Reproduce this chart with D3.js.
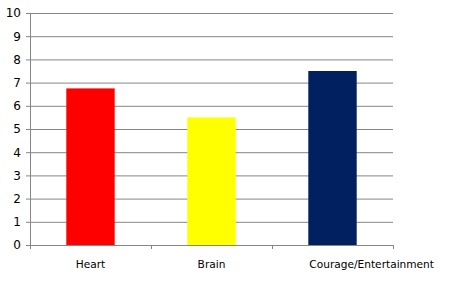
<!DOCTYPE html>
<html>
<head>
<meta charset="utf-8">
<script src="https://cdn.jsdelivr.net/npm/d3@7"></script>
<style>
  body { margin: 0; background: #fff; }
  svg text { font-family: "DejaVu Sans", Verdana, sans-serif; fill: #000; }
</style>
</head>
<body>
<div id="chart"></div>
<script>
(function () {
  "use strict";

  /***** Données *****/
  var categories = ["Heart", "Brain", "Courage/Entertainment"];
  var values = [6.75, 5.5, 7.5];
  var barColors = ["#ff0000", "#ffff00", "#002060"];
  var yTicks = [0, 1, 2, 3, 4, 5, 6, 7, 8, 9, 10];

  var width = 461, height = 291;
  var margin = {top: 13, right: 68, bottom: 46, left: 30};
  var plotW = width - margin.left - margin.right,
      plotH = height - margin.top - margin.bottom;

  var svg = d3.select("#chart").append("svg")
    .attr("width", width)
    .attr("height", height);

  var g = svg.append("g")
    .attr("transform", "translate(" + margin.left + "," + margin.top + ")");

  var x = d3.scaleBand().domain(categories).range([0, plotW]).paddingInner(0.6).paddingOuter(0.3);
  var xEdges = d3.scaleLinear().domain([0, categories.length]).range([0, plotW]);
  var y = d3.scaleLinear().domain([0, 10]).range([plotH, 0]);

  // Quadrillage + axe des y
  var yAxis = g.append("g")
    .call(d3.axisLeft(y).tickValues(yTicks).tickSize(-plotW - 4).tickPadding(5).tickFormat(d3.format("d")))
    .attr("transform", "translate(-4,0)");
  yAxis.select(".domain").remove();
  yAxis.selectAll(".tick line").attr("stroke", "#868686").attr("stroke-width", 1);
  yAxis.selectAll(".tick text").style("font-size", "12px");

  g.append("line")
    .attr("x1", 0.5).attr("x2", 0.5)
    .attr("y1", 0).attr("y2", plotH)
    .attr("stroke", "#868686");

  // Barres
  g.selectAll("rect.bar")
    .data(categories)
    .enter().append("rect")
    .attr("class", "bar")
    .attr("x", function (d) { return x(d); })
    .attr("width", x.bandwidth())
    .attr("y", function (d, i) { return y(values[i]); })
    .attr("height", function (d, i) { return plotH - y(values[i]); })
    .attr("fill", function (d, i) { return barColors[i]; });

  // Axe des x
  var xAxis = g.append("g").attr("transform", "translate(0," + plotH + ")");
  xAxis.append("line")
    .attr("x1", 0).attr("x2", plotW)
    .attr("y1", 0.5).attr("y2", 0.5)
    .attr("stroke", "#868686");
  xAxis.selectAll("line.edge")
    .data(d3.range(categories.length + 1))
    .enter().append("line")
    .attr("class", "edge")
    .attr("x1", function (d) { return Math.round(xEdges(d)) + 0.5; })
    .attr("x2", function (d) { return Math.round(xEdges(d)) + 0.5; })
    .attr("y1", 0).attr("y2", 4)
    .attr("stroke", "#868686");

  // Étiquettes : centrées, sauf si plus larges que la catégorie (alors alignées sur la barre)
  var catW = xEdges(1) - xEdges(0);
  xAxis.selectAll("text")
    .data(categories)
    .enter().append("text")
    .attr("y", 23)
    .style("font-size", "10.6px")
    .text(function (d) { return d; })
    .each(function (d) {
      var t = d3.select(this);
      if (this.getComputedTextLength() > catW) {
        t.attr("x", x(d) + 1).attr("text-anchor", "start");
      } else {
        t.attr("x", x(d) + x.bandwidth() / 2).attr("text-anchor", "middle");
      }
    });
})();
</script>
</body>
</html>
